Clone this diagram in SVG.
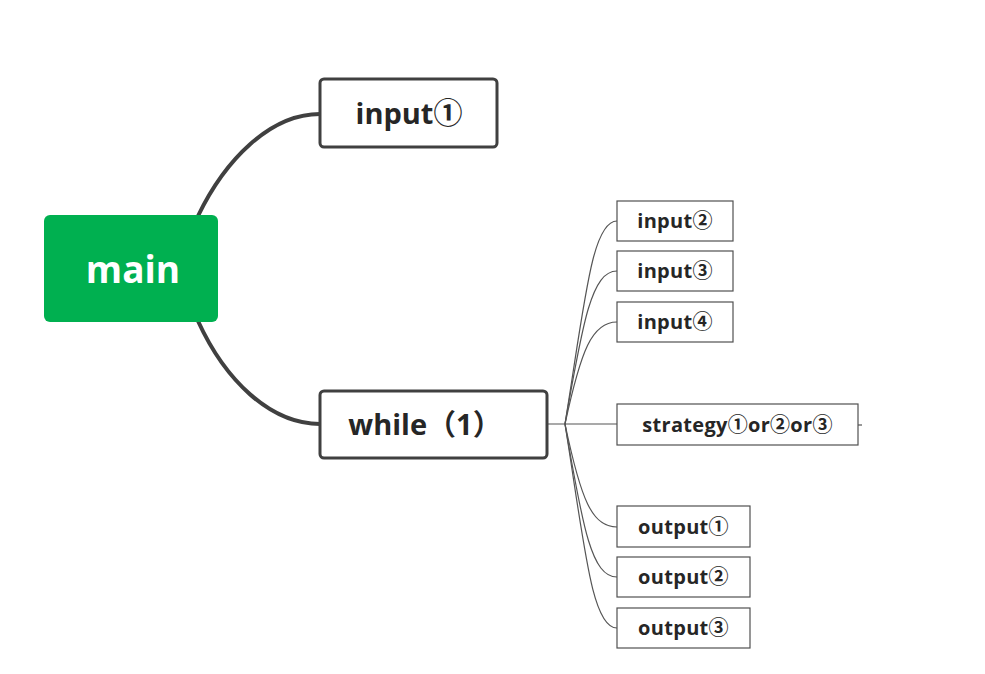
<svg xmlns="http://www.w3.org/2000/svg" width="985" height="674" viewBox="0 0 985 674">
<style>
.big{fill:#fff;stroke:#404040;stroke-width:3}
.small{fill:#fff;stroke:#505050;stroke-width:1.2}
.t{font-family:"Open Sans","Noto Sans CJK SC","Noto Sans",sans-serif;font-weight:bold;fill:#262626;text-anchor:middle}
.tb{font-size:29px}
.ts{font-size:20px;letter-spacing:0.3px}
.thick{fill:none;stroke:#404040;stroke-width:4}
.thin{fill:none;stroke:#555;stroke-width:1.2}
</style>
<rect width="985" height="674" fill="#fff"/>
<g id="connectors">
<path class="thick" d="M198,216 C225,160 270,114 320,114"/>
<path class="thick" d="M198,321 C225,380 270,424 320,424"/>
<path class="thin" d="M547,424 L617,424"/>
<path class="thin" d="M565,424 C585,300 592,221 617,221"/>
<path class="thin" d="M565,424 C583,320 592,271 617,271"/>
<path class="thin" d="M565,424 C581,350 592,322 617,322"/>
<path class="thin" d="M565,424 C581,500 592,527 617,527"/>
<path class="thin" d="M565,424 C583,530 592,577 617,577"/>
<path class="thin" d="M565,424 C585,550 592,628 617,628"/>
<path class="thin" d="M858,425 L862,425"/>
</g>
<g id="main">
<rect x="44" y="215" width="174" height="107" rx="6" fill="#00b050"/>
<text x="133" y="283" class="t" style="font-size:37px;fill:#fff">main</text>
</g>
<g id="input1">
<rect class="big" x="320" y="79" width="177" height="68" rx="4"/>
<text x="409" y="124" class="t tb">input①</text>
</g>
<g id="while">
<rect class="big" x="320" y="391" width="227" height="67" rx="4"/>
<text x="425" y="435" class="t tb">while（1）</text>
</g>
<g id="input2">
<rect class="small" x="617" y="201" width="116" height="40"/>
<text x="675" y="228" class="t ts">input②</text>
</g>
<g id="input3">
<rect class="small" x="617" y="251" width="116" height="40"/>
<text x="675" y="278" class="t ts">input③</text>
</g>
<g id="input4">
<rect class="small" x="617" y="302" width="116" height="40"/>
<text x="675" y="329" class="t ts">input④</text>
</g>
<g id="strategy">
<rect class="small" x="617" y="404" width="241" height="41"/>
<text x="737.5" y="432" class="t ts">strategy①or②or③</text>
</g>
<g id="output1">
<rect class="small" x="617" y="506" width="133" height="41"/>
<text x="683.5" y="534" class="t ts">output①</text>
</g>
<g id="output2">
<rect class="small" x="617" y="557" width="133" height="40"/>
<text x="683.5" y="584" class="t ts">output②</text>
</g>
<g id="output3">
<rect class="small" x="617" y="608" width="133" height="40"/>
<text x="683.5" y="635" class="t ts">output③</text>
</g>
</svg>
